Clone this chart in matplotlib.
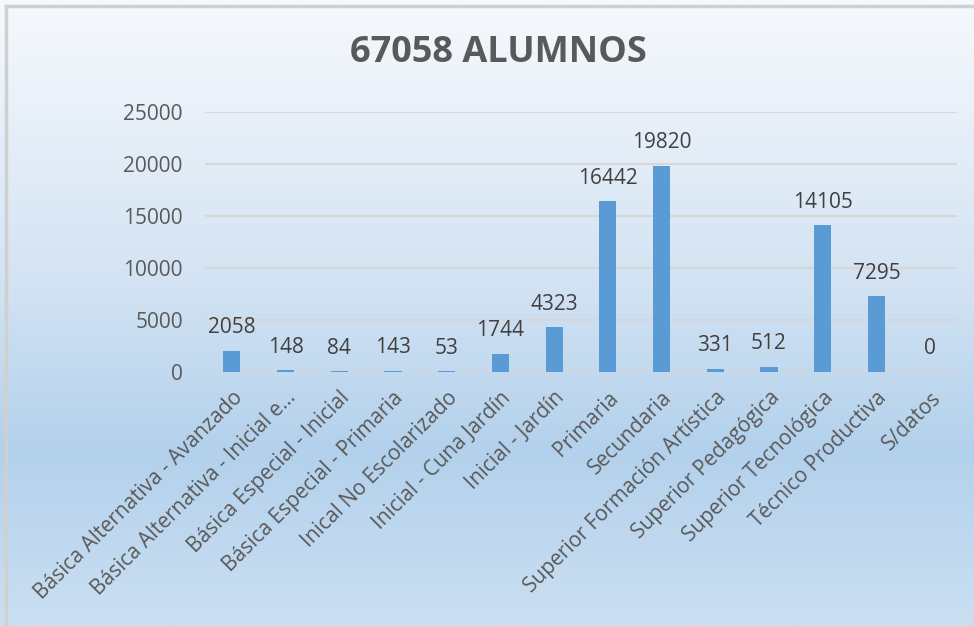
import numpy as np
import matplotlib.pyplot as plt
from matplotlib.colors import LinearSegmentedColormap

categorias = [
    "Básica Alternativa - Avanzado",
    "Básica Alternativa - Inicial e...",
    "Básica Especial - Inicial",
    "Básica Especial - Primaria",
    "Inical No Escolarizado",
    "Inicial - Cuna Jardín",
    "Inicial - Jardín",
    "Primaria",
    "Secundaria",
    "Superior Formación Artística",
    "Superior Pedagógica",
    "Superior Tecnológica",
    "Técnico Productiva",
    "S/datos",
]
alumnos = [2058, 148, 84, 143, 53, 1744, 4323, 16442, 19820, 331, 512, 14105, 7295, 0]
titulo = "67058 ALUMNOS"

plt.rcParams['font.family'] = ['Open Sans', 'DejaVu Sans']

fig = plt.figure(figsize=(9.74, 6.26), dpi=100)

# fondo degradado
bg = fig.add_axes([0, 0, 1, 1], zorder=-10)
grad = LinearSegmentedColormap.from_list(
    "fondo", [(0, "#f6f9fd"), (0.45, "#d3e3f3"), (0.72, "#b3d1ec"), (1, "#cbdff2")])
bg.imshow(np.linspace(0, 1, 256).reshape(-1, 1), aspect='auto', cmap=grad,
          extent=[0, 1, 0, 1], origin='upper')
bg.plot([0.0066, 0.0066], [0, 0.99], color="#d0d0d0", lw=2.5, transform=bg.transAxes)
bg.plot([0.0066, 1], [0.99, 0.99], color="#d0d0d0", lw=2.5, transform=bg.transAxes)
bg.set_xlim(0, 1)
bg.set_ylim(0, 1)
bg.axis('off')

ax = fig.add_axes([205 / 974, 1 - 372 / 626, 752 / 974, 260 / 626])
ax.patch.set_alpha(0)
x = np.arange(len(categorias))
ax.bar(x, alumnos, width=0.32, color="#5b9bd5", zorder=3)
for xi, v in zip(x, alumnos):
    ax.annotate(f"{v}", (xi, v), xytext=(0, 9), textcoords='offset points',
                ha='center', va='bottom', fontsize=15, color="#404040")

ax.set_xlim(-0.5, len(categorias) - 0.5)
ax.set_ylim(0, 25000)
ax.set_yticks(range(0, 25001, 5000))
ax.yaxis.grid(True, color="#d6d6d6", lw=1.5, zorder=0)
ax.tick_params(axis='y', length=0, pad=16, labelsize=15, labelcolor="#595959")
ax.tick_params(axis='x', length=0, pad=11, labelsize=15, labelcolor="#595959")
ax.set_xticks(x)
ax.set_xticklabels(categorias, rotation=45, ha='right', va='top', rotation_mode='anchor')
for s in ax.spines.values():
    s.set_visible(False)

fig.text(0.512, 0.915, titulo, ha='center', va='center', fontsize=26,
         fontweight='bold', color="#595959")

fig.savefig("out.png", dpi=100)
